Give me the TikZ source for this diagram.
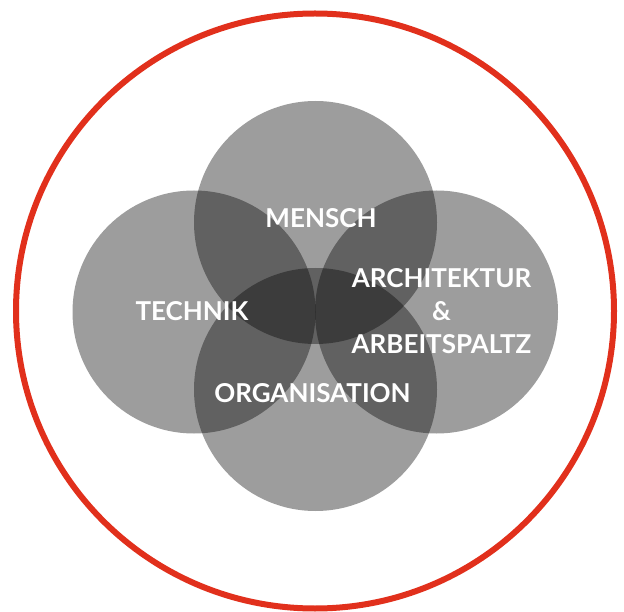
\documentclass[tikz,border=0pt]{standalone}
\usepackage{fontspec}
\setmainfont{Lato}
\definecolor{ringred}{RGB}{225,48,28}
\begin{document}
\begin{tikzpicture}[x=1pt,y=-1pt,
  bubble/.style={circle, fill=black, fill opacity=0.385, draw=none, minimum size=243pt, inner sep=0pt},
  label/.style={text=white, font=\bfseries\fontsize{26}{33}\selectfont, align=center, inner sep=0pt}]
\useasboundingbox (0,0) rectangle (624,612);
\draw[ringred, line width=6pt] (315,311) ellipse [x radius=299, y radius=297.5];
\node[bubble] (mensch) at (315.5,222.5) {};
\node[bubble] (technik) at (194,312) {};
\node[bubble] (arch) at (436.5,312) {};
\node[bubble] (org) at (315.5,389.5) {};
\node[label] (tm) at (321,218) {MENSCH};
\node[label] (tt) at (192,311) {TECHNIK};
\node[label] (to) at (312.5,393) {ORGANISATION};
\node[label] (ta) at (441.5,311) {ARCHITEKTUR\\\&\\ARBEITSPALTZ};
\end{tikzpicture}
\end{document}
